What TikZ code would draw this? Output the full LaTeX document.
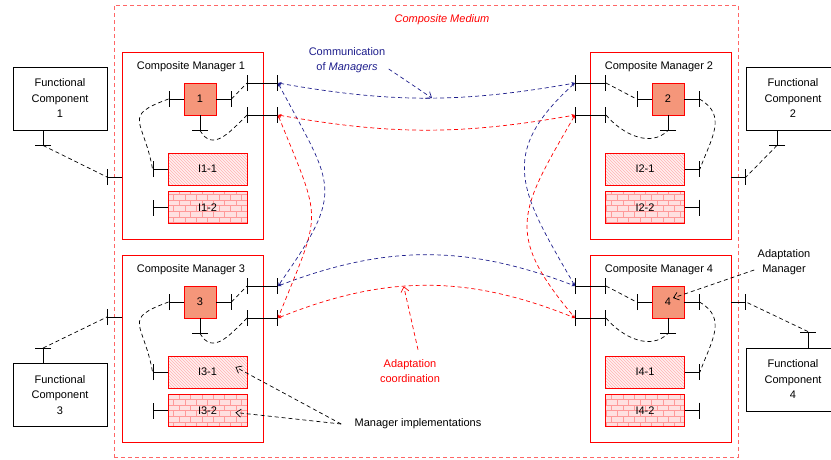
\documentclass[tikz,border=0pt]{standalone}
\usepackage{fontspec}
\setmainfont{Liberation Sans}
\usetikzlibrary{arrows.meta,patterns}

\definecolor{navy}{RGB}{30,30,140}
\definecolor{mgrfill}{RGB}{245,150,122}

\tikzset{
  medium/.style={draw=red!60, dash pattern=on 4pt off 3pt, line width=0.7pt, inner sep=0pt},
  mgrbox/.style={draw=red, line width=0.9pt, minimum width=141pt, minimum height=187pt, inner sep=0pt},
  mgrsq/.style={draw=red, line width=0.9pt, fill=mgrfill, minimum size=32pt, inner sep=0pt},
  implhatch/.style={draw=red, line width=0.9pt, minimum width=79pt, minimum height=32pt, inner sep=0pt,
    preaction={fill=red!6}, preaction={pattern=north west lines, pattern color=red!30}},
  implbrick/.style={draw=red, line width=0.9pt, minimum width=79pt, minimum height=32pt, inner sep=0pt,
    preaction={fill=red!12}, preaction={pattern=bricks, pattern color=red!40}},
  funcbox/.style={draw, line width=0.9pt, minimum width=94pt, minimum height=63pt, align=center, inner sep=0pt},
  port/.style={line width=0.9pt, -{Bar[width=16pt]}},
  xport/.style={line width=0.9pt, {Bar[width=16pt]}-{Bar[width=16pt]}},
  link/.style={dash pattern=on 4pt off 3pt, line width=0.7pt},
  comm/.style={link, draw=navy, {Stealth[length=3.5pt,width=3pt]}-{Stealth[length=3.5pt,width=3pt]}},
  adapt/.style={link, draw=red, {Stealth[length=3.5pt,width=3pt]}-{Stealth[length=3.5pt,width=3pt]}},
  callout/.style={link, -{Straight Barb[length=5pt,width=8pt]}}
}

\begin{document}
\begin{tikzpicture}[x=1pt,y=1pt,font=\fontsize{11}{15.5}\selectfont]
\useasboundingbox (0,0) rectangle (831,-459);

% composite medium
\node[medium, minimum width=624pt, minimum height=452pt] (medium) at (426,-231) {};
\node[text=red, font=\fontsize{11}{15.5}\selectfont\itshape] (mediumlabel) at (442,-20) {Composite Medium};

% manager 1
\node[mgrbox] (cm1) at (192.5,-145.5) {};
\node (cm1t) at (191,-67) {Composite Manager 1};
\node[mgrsq] (sq1) at (200,-99) {1};
\draw[port] (sq1.west) -- ++(-15,0) coordinate (sq1w);
\draw[port] (sq1.east) -- ++(15,0) coordinate (sq1e);
\draw[port] (sq1.south) -- ++(0,-15) coordinate (sq1s);
\node[implhatch] (i11) at (207.5,-169) {I1-1};
\draw[port] (i11.west) -- ++(-15,0) coordinate (i11p);
\node[implbrick] (i12) at (207.5,-207.5) {I1-2};
\draw[port] (i12.west) -- ++(-15,0) coordinate (i12p);
\coordinate (p1ai) at (247,-83); \coordinate (p1ao) at (278,-83);
\coordinate (p1bi) at (247,-115); \coordinate (p1bo) at (278,-115);
\draw[xport] (p1ai) -- (p1ao);
\draw[xport] (p1bi) -- (p1bo);
\coordinate (p1s) at (107,-177);
\draw[port] (cm1.west |- p1s) -- (p1s);
\draw[link] (sq1e) -- (p1ai);
\draw[link] (sq1w) to[out=200,in=100,looseness=1.8] (i11p);
\draw[link] (sq1s) to[out=-60,in=225,looseness=1.3] (p1bi);

% manager 2
\node[mgrbox] (cm2) at (660.5,-145.5) {};
\node (cm2t) at (659,-67) {Composite Manager 2};
\node[mgrsq] (sq2) at (668,-99) {2};
\draw[port] (sq2.west) -- ++(-15,0) coordinate (sq2w);
\draw[port] (sq2.east) -- ++(15,0) coordinate (sq2e);
\draw[port] (sq2.south) -- ++(0,-15) coordinate (sq2s);
\node[implhatch] (i21) at (645,-169) {I2-1};
\draw[port] (i21.east) -- ++(15,0) coordinate (i21p);
\node[implbrick] (i22) at (645,-207.5) {I2-2};
\draw[port] (i22.east) -- ++(15,0) coordinate (i22p);
\coordinate (p2ai) at (606,-83); \coordinate (p2ao) at (575,-83);
\coordinate (p2bi) at (606,-115); \coordinate (p2bo) at (575,-115);
\draw[xport] (p2ao) -- (p2ai);
\draw[xport] (p2bo) -- (p2bi);
\coordinate (p2s) at (746,-177);
\draw[port] (cm2.east |- p2s) -- (p2s);
\draw[link] (p2ai) -- (sq2w);
\draw[link] (p2bi) to[out=-50,in=225] (sq2s);
\draw[link] (sq2e) to[out=-30,in=70,looseness=1.2] (i21p);

% manager 3
\node[mgrbox] (cm3) at (192.5,-348.5) {};
\node (cm3t) at (191,-270) {Composite Manager 3};
\node[mgrsq] (sq3) at (200,-302) {3};
\draw[port] (sq3.west) -- ++(-15,0) coordinate (sq3w);
\draw[port] (sq3.east) -- ++(15,0) coordinate (sq3e);
\draw[port] (sq3.south) -- ++(0,-15) coordinate (sq3s);
\node[implhatch] (i31) at (207.5,-372) {I3-1};
\draw[port] (i31.west) -- ++(-15,0) coordinate (i31p);
\node[implbrick] (i32) at (207.5,-410.5) {I3-2};
\draw[port] (i32.west) -- ++(-15,0) coordinate (i32p);
\coordinate (p3ai) at (247,-286); \coordinate (p3ao) at (278,-286);
\coordinate (p3bi) at (247,-318); \coordinate (p3bo) at (278,-318);
\draw[xport] (p3ai) -- (p3ao);
\draw[xport] (p3bi) -- (p3bo);
\coordinate (p3s) at (107,-317);
\draw[port] (cm3.west |- p3s) -- (p3s);
\draw[link] (sq3e) -- (p3ai);
\draw[link] (sq3w) to[out=200,in=100,looseness=1.8] (i31p);
\draw[link] (sq3s) to[out=-60,in=225,looseness=1.3] (p3bi);

% manager 4
\node[mgrbox] (cm4) at (660.5,-348.5) {};
\node (cm4t) at (659,-270) {Composite Manager 4};
\node[mgrsq] (sq4) at (668,-302) {4};
\draw[port] (sq4.west) -- ++(-15,0) coordinate (sq4w);
\draw[port] (sq4.east) -- ++(15,0) coordinate (sq4e);
\draw[port] (sq4.south) -- ++(0,-15) coordinate (sq4s);
\node[implhatch] (i41) at (645,-372) {I4-1};
\draw[port] (i41.east) -- ++(15,0) coordinate (i41p);
\node[implbrick] (i42) at (645,-410.5) {I4-2};
\draw[port] (i42.east) -- ++(15,0) coordinate (i42p);
\coordinate (p4ai) at (606,-286); \coordinate (p4ao) at (575,-286);
\coordinate (p4bi) at (606,-318); \coordinate (p4bo) at (575,-318);
\draw[xport] (p4ao) -- (p4ai);
\draw[xport] (p4bo) -- (p4bi);
\coordinate (p4s) at (746,-302);
\draw[port] (cm4.east |- p4s) -- (p4s);
\draw[link] (p4ai) -- (sq4w);
\draw[link] (p4bi) to[out=-50,in=225] (sq4s);
\draw[link] (sq4e) to[out=-30,in=70,looseness=1.2] (i41p);

% functional components
\node[funcbox] (fc1) at (60,-98.5) {Functional\\Component\\1};
\draw[port] ([xshift=-17pt]fc1.south) -- ++(0,-15) coordinate (fc1p);
\draw[link] (fc1p) -- (p1s);
\node[funcbox] (fc2) at (793,-98.5) {Functional\\Component\\2};
\draw[port] ([xshift=-16pt]fc2.south) -- ++(0,-15) coordinate (fc2p);
\draw[link] (fc2p) -- (p2s);
\node[funcbox] (fc3) at (60,-395) {Functional\\Component\\3};
\draw[port] ([xshift=-17pt]fc3.north) -- ++(0,15) coordinate (fc3p);
\draw[link] (fc3p) -- (p3s);
\node[funcbox] (fc4) at (793,-379.5) {Functional\\Component\\4};
\draw[port] ([xshift=15pt]fc4.north) -- ++(0,16) coordinate (fc4p);
\draw[link] (fc4p) -- (p4s);

% communication of managers
\draw[comm] (p1ao) to[bend right=10] coordinate[pos=.52] (commpt) (p2ao);
\draw[comm] (p3ao) to[bend left=21] (p4ao);
\draw[comm] (p1ao) to[out=-62,in=55,looseness=1.5] (p3ao);
\draw[comm] (p2ao) to[out=222,in=120,looseness=1.35] (p4ao);

% adaptation coordination
\draw[adapt] (p1bo) to[bend right=10] (p2bo);
\draw[adapt] (p3bo) to[bend left=22] coordinate[pos=.42] (adaptpt) (p4bo);
\draw[adapt] (p1bo) to[out=-68,in=68,looseness=1.5] (p3bo);
\draw[adapt] (p2bo) to[out=240,in=130,looseness=1.4] (p4bo);

% labels
\node[text=navy, align=center] (commlabel) at (347,-60) {Communication\\of \textit{Managers}};
\draw[callout, draw=navy] ([yshift=-9pt]commlabel.east) -- (commpt);
\node[text=red, align=center] (adaptlabel) at (410,-371) {Adaptation\\coordination};
\draw[callout, draw=red] ([xshift=8pt,yshift=6pt]adaptlabel.north) -- (adaptpt);
\node (impllabel) at (418,-424) {Manager implementations};
\coordinate (implfrom) at ([xshift=-10pt]impllabel.west);
\draw[callout] (implfrom) -- ([xshift=-12pt,yshift=5pt]i31.east);
\draw[callout] (implfrom) -- ([xshift=-12pt,yshift=-2pt]i32.east);
\node[align=center] (amgrlabel) at (784,-262) {Adaptation\\Manager};
\draw[callout] ([yshift=-8pt]amgrlabel.west) -- ([xshift=5pt,yshift=4pt]sq4.center);
\end{tikzpicture}
\end{document}
